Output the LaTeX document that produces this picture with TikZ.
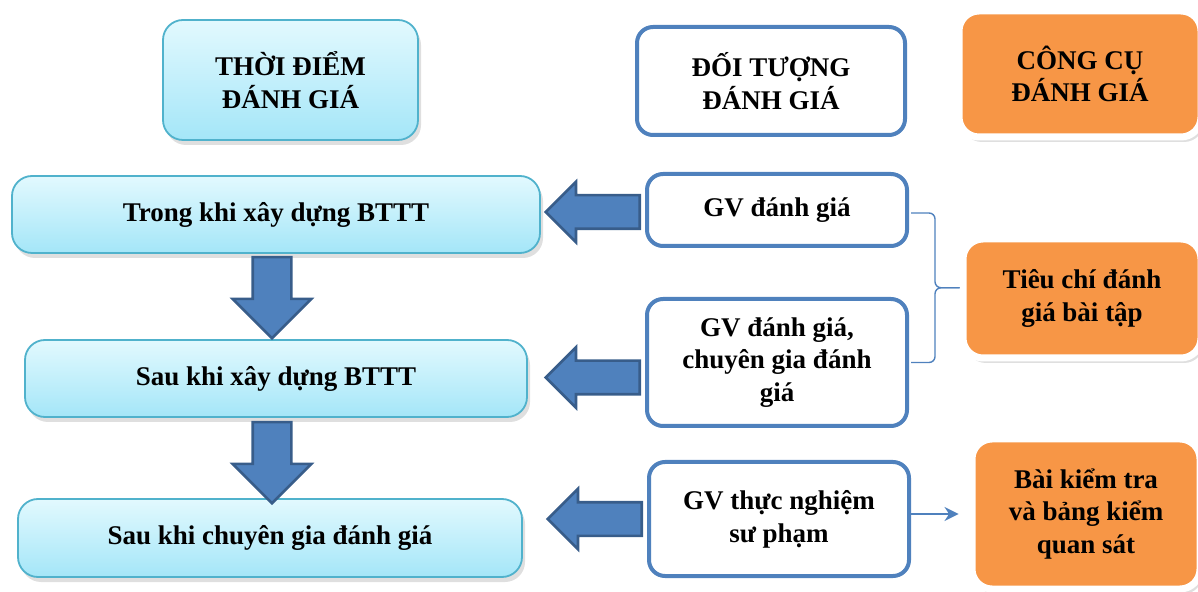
\documentclass[tikz,border=0pt]{standalone}
\usepackage{fontspec}
\setmainfont{Liberation Serif}
\usetikzlibrary{shapes.arrows, arrows.meta, calc, shadows}
\definecolor{mycyan}{RGB}{80,178,204}
\definecolor{hdrcyantop}{RGB}{226,249,254}
\definecolor{hdrcyanbot}{RGB}{164,230,248}
\definecolor{myblue}{RGB}{79,129,189}
\definecolor{mydkblue}{RGB}{56,93,138}
\definecolor{myorange}{RGB}{247,150,70}
\tikzset{
  timebox/.style={rectangle, draw=mycyan, top color=hdrcyantop, bottom color=hdrcyanbot,
    align=center, font=\fontsize{13.5pt}{16.4pt}\selectfont\bfseries,
    rounded corners=10pt, line width=0.9pt,
    drop shadow={opacity=0.25, shadow xshift=1.5pt, shadow yshift=-2.5pt}},
  whobox/.style={rectangle, draw=myblue, fill=white,
    align=center, font=\fontsize{13.5pt}{16.4pt}\selectfont\bfseries,
    rounded corners=8pt, line width=2pt},
  toolbox/.style={rectangle, draw=white, fill=myorange,
    align=center, font=\fontsize{13.5pt}{16.4pt}\selectfont\bfseries,
    rounded corners=10pt, line width=3.5pt,
    drop shadow={opacity=0.25, shadow xshift=1.5pt, shadow yshift=-2.5pt}},
  downarrow/.style={single arrow, draw=mydkblue, fill=myblue, line width=1.3pt,
    rotate=-90, minimum height=40.5pt, minimum width=38pt,
    inner xsep=0pt, inner ysep=9pt, single arrow head extend=10pt},
  leftarrow/.style={single arrow, draw=mydkblue, fill=myblue, line width=1.3pt,
    rotate=180, minimum height=47pt, minimum width=29pt,
    inner xsep=0pt, inner ysep=7.75pt, single arrow head extend=6.75pt},
  arrow/.style={-{Stealth[length=7pt, width=7pt]}, color=myblue, line width=0.8pt},
  line/.style={color=myblue, line width=0.7pt, rounded corners=3pt}
}
\begin{document}
\begin{tikzpicture}[x=0.5pt, y=-0.5pt]
  \useasboundingbox (0,0) rectangle (1198,592);

  % Column headers
  \node[timebox, minimum width=127.5pt, minimum height=60pt] (tdiem) at (290.5,80) {THỜI ĐIỂM\\ĐÁNH GIÁ};
  \node[whobox, minimum width=134pt, minimum height=54pt] (dtuong) at (771,81) {ĐỐI TƯỢNG\\ĐÁNH GIÁ};
  \node[toolbox, minimum width=121pt, minimum height=63pt] (ccu) at (1080,74) {CÔNG CỤ\\ĐÁNH GIÁ};

  % Time column
  \node[timebox, minimum width=264pt, minimum height=38.5pt] (trong) at (276,214.5) {Trong khi xây dựng BTTT};
  \node[timebox, minimum width=251pt, minimum height=38.5pt] (sau1) at (276,378.5) {Sau khi xây dựng BTTT};
  \node[timebox, minimum width=252pt, minimum height=39pt] (sau2) at (270,538) {Sau khi chuyên gia đánh giá};

  % Down arrows
  \node[downarrow, anchor=tail] at ($(trong.south)+(-4,2)$) {};
  \node[downarrow, anchor=tail] at ($(sau1.south)+(-4,3)$) {};

  % Who column
  \node[whobox, minimum width=130pt, minimum height=36pt] (gv1) at (777,210) {GV đánh giá};
  \node[whobox, minimum width=130pt, minimum height=63.5pt] (gv2) at (777,362.5) {GV đánh giá,\\chuyên gia đánh\\giá};
  \node[whobox, minimum width=130pt, minimum height=57pt] (gv3) at (779,519) {GV thực nghiệm\\sư phạm};

  % Left arrows
  \node[leftarrow, anchor=tail] at ($(gv1.west)+(-4,2)$) {};
  \node[leftarrow, anchor=tail] at ($(gv2.west)+(-4,15)$) {};
  \node[leftarrow, anchor=tail] at ($(gv3.west)+(-4,0)$) {};

  % Tool column
  \node[toolbox, minimum width=119pt, minimum height=59.5pt] (tieuchi) at (1082,298.5) {Tiêu chí đánh\\giá bài tập};
  \node[toolbox, minimum width=114pt, minimum height=75pt] (baikt) at (1086,514) {Bài kiểm tra\\và bảng kiểm\\quan sát};

  % Brace to criteria
  \coordinate (btop) at ($(gv1.east)+(2,3)$);
  \coordinate (bbot) at ($(gv2.east)+(2,0)$);
  \coordinate (bmid) at ($(btop)!0.5!(bbot)+(24,0)$);
  \coordinate (btip) at (bmid -| tieuchi.west);
  \draw[line] (btop) -- ++(24,0) -- (bmid) -- (btip);
  \draw[line] (bbot) -- ++(24,0) -- (bmid) -- (btip);

  % Arrow to test
  \draw[arrow, shorten >=5pt] (gv3.east |- baikt.west) -- (baikt.west);
\end{tikzpicture}
\end{document}
